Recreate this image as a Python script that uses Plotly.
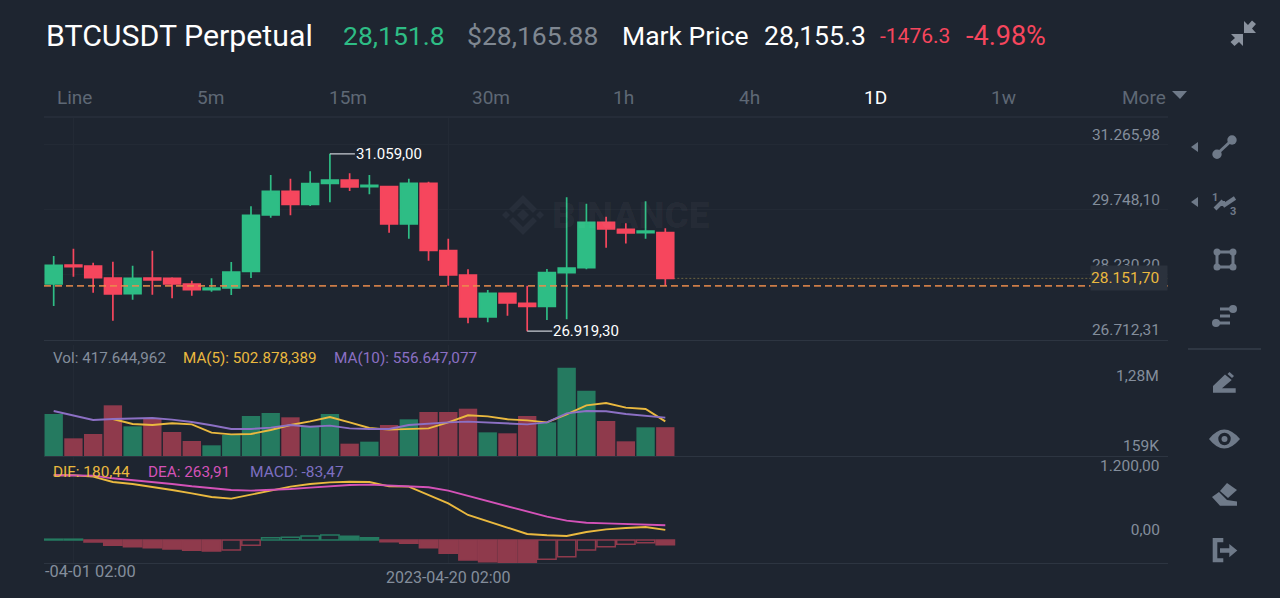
#!/usr/bin/env python3
# BTCUSDT daily candles with volume and MACD panes, phone app dark theme
import pandas as pd
import plotly.graph_objects as go
from plotly.subplots import make_subplots

dates = list(pd.date_range("2023-03-31 02:00", periods=32, freq="D"))

opens = [28020, 28464, 28440, 28160, 27794, 28160, 28152, 28020, 27888, 27926, 28316, 29631, 30184, 29880, 30370, 30448,
         30293, 30293, 29421, 30370, 28798, 28230, 27250, 27802, 27569, 27499, 28285, 28401, 29460, 29296, 29219, 29218]
highs = [28674, 28845, 28518, 28542, 28448, 28798, 28176, 28098, 28152, 28534, 29833, 30565, 30479, 30651, 31059, 30604,
         30565, 30308, 30479, 30409, 29079, 28362, 27880, 27802, 27981, 28370, 30044, 29896, 29592, 29437, 29950, 29320]
lows = [27506, 28191, 27818, 27164, 27654, 27771, 27685, 27748, 27841, 27763, 28160, 29569, 29623, 29841, 29927, 30191,
        30114, 29219, 29078, 28565, 27981, 27102, 27125, 27281, 26919.3, 27180, 27195, 28362, 28868, 28965, 29078, 27981]
closes = [28456, 28425, 28168, 27787, 28152, 28113, 28020, 27888, 27926, 28300, 29623, 30184, 29880, 30363, 30448, 30285,
          30324, 29421, 30370, 28806, 28230, 27250, 27802, 27576, 27499, 28285, 28394, 29460, 29304, 29211, 29257, 28151.7]

# volume in thousands
volumes = [609, 256, 319, 735, 430, 537, 348, 218, 155, 305, 580, 624, 561, 421, 609, 179,
           208, 450, 532, 638, 638, 686, 343, 329, 580, 488, 1281, 947, 508, 213, 416, 417.6]
ma5 = [None, None, None, 536, 464, 450, 474, 459, 338, 314, 319, 377, 450, 503, 566, 488,
       406, 382, 396, 401, 488, 590, 575, 532, 517, 488, 604, 735, 769, 701, 682, 502.9]
ma10 = [653, 585, 522, 536, 541, 551, 527, 493, 445, 392, 392, 411, 450, 425, 440, 401,
        392, 392, 450, 474, 488, 498, 483, 469, 459, 488, 619, 653, 648, 609, 585, 556.6]

dif = [1158, 1158, 1134, 1038, 1002, 955, 895, 835, 770, 740, 806, 883, 955, 1002, 1032, 1044,
       1038, 961, 955, 806, 656, 448, 334, 221, 107, 84, 72, 143, 191, 215, 233, 180.44]
dea = [1158, 1158, 1152, 1104, 1074, 1038, 1002, 961, 925, 895, 883, 895, 913, 937, 967, 985,
       991, 973, 967, 943, 883, 788, 692, 597, 507, 418, 346, 310, 298, 286, 275, 263.91]
macd = [15, 15, -36, -95, -119, -137, -161, -185, -197, -179, -95, 42, 48, 72, 90, 66,
        42, -30, -60, -137, -239, -358, -388, -406, -406, -346, -298, -179, -119, -78, -48, -83.47]

price_ticks = [31265.98, 29748.10, 28230.20, 26712.31]
price_labels = ["31.265,98", "29.748,10", "28.230,20", "26.712,31"]
macd_ticks = [0]
macd_labels = ["0,00"]
intervals = ["Line", "5m", "15m", "30m", "1h", "4h", "1D", "1w", "More"]
interval_pos = [55.5, 195.5, 327.5, 470.5, 611.5, 737.5, 863, 990, 1121]

W, H = 1280, 598
BG = "#1e2530"
GREEN = "#2ebd85"
RED = "#f6465d"
VOL_GREEN = "#257a60"
VOL_RED = "#8f3a4c"
YELLOW = "#eab93f"
PURPLE = "#8c70c4"
MAGENTA = "#d452b8"
GREY = "#848e9c"
ICON = "#6f7a89"
GRID = "#232a35"
LINE = "#2d3541"


def fx(x):
    return x / W


def fy(y):
    return 1 - y / H


def poly(points, color=ICON):
    path = "M " + " L ".join(f"{fx(x):.5f},{fy(y):.5f}" for x, y in points) + " Z"
    return dict(type="path", path=path, xref="paper", yref="paper", fillcolor=color, line_width=0, layer="above")


def seg(x0, y0, x1, y1, color=ICON, width=3):
    return dict(type="line", x0=fx(x0), y0=fy(y0), x1=fx(x1), y1=fy(y1), xref="paper", yref="paper",
                line=dict(color=color, width=width), layer="above")


def dot(cx, cy, r, color=ICON):
    return dict(type="circle", x0=fx(cx - r), x1=fx(cx + r), y0=fy(cy - r), y1=fy(cy + r), xref="paper", yref="paper",
                fillcolor=color, line_width=0, layer="above")


def label(text, x, y, size, color, anchor="left", family="Roboto"):
    return dict(text=text, x=fx(x), y=fy(y), xref="paper", yref="paper", xanchor=anchor, yanchor="middle",
                showarrow=False, borderpad=0, font=dict(size=size, color=color, family=family))


fig = make_subplots(rows=3, cols=1, shared_xaxes=True)

fig.add_trace(go.Candlestick(x=dates, open=opens, high=highs, low=lows, close=closes,
                             increasing=dict(line=dict(color=GREEN, width=1.7), fillcolor=GREEN),
                             decreasing=dict(line=dict(color=RED, width=1.7), fillcolor=RED),
                             whiskerwidth=0), row=1, col=1)

vol_colors = [VOL_GREEN if c >= o else VOL_RED for o, c in zip(opens, closes)]
fig.add_trace(go.Bar(x=dates, y=volumes, marker=dict(color=vol_colors, line_width=0)), row=2, col=1)
fig.add_trace(go.Scatter(x=dates, y=ma5, mode="lines", line=dict(color=YELLOW, width=1.9)), row=2, col=1)
fig.add_trace(go.Scatter(x=dates, y=ma10, mode="lines", line=dict(color=PURPLE, width=1.9)), row=2, col=1)

# hollow bars when the histogram is rising
edge, fill = [], []
for i, v in enumerate(macd):
    col = VOL_GREEN if v > 0 else VOL_RED
    edge.append(col)
    fill.append(BG if i > 0 and v > macd[i - 1] else col)
fig.add_trace(go.Bar(x=dates, y=macd, marker=dict(color=fill, line=dict(color=edge, width=1.5))), row=3, col=1)
fig.add_trace(go.Scatter(x=dates, y=dif, mode="lines", line=dict(color=YELLOW, width=1.9)), row=3, col=1)
fig.add_trace(go.Scatter(x=dates, y=dea, mode="lines", line=dict(color=MAGENTA, width=1.9)), row=3, col=1)

x_range = ["2023-03-30 14:12", "2023-05-26 13:31"]
for row in (1, 2, 3):
    fig.update_xaxes(row=row, col=1, range=x_range, domain=[fx(44), fx(1168)], showgrid=True, gridcolor=GRID,
                     gridwidth=1, zeroline=False, tickmode="array", tickvals=[dates[1], dates[20]],
                     showticklabels=False, ticks="", showline=True, linecolor=LINE, linewidth=1,
                     rangeslider_visible=False)
fig.update_xaxes(row=3, col=1, showticklabels=True, ticktext=["", "2023-04-20 02:00"],
                 tickfont=dict(size=16, color=GREY, family="Roboto"))

fig.update_yaxes(row=1, col=1, domain=[fy(340), fy(118)], range=[26712.31, 31896], side="right", tickmode="array",
                 tickvals=price_ticks, ticktext=price_labels, ticklabelposition="inside top", ticklabelstandoff=5,
                 tickfont=dict(size=15.5, color=GREY, family="Roboto"), showgrid=True, gridcolor=GRID, zeroline=False)
fig.update_yaxes(row=2, col=1, domain=[fy(456), fy(345)], range=[0, 1609.5], showgrid=False, zeroline=False,
                 showticklabels=False)
fig.update_yaxes(row=3, col=1, domain=[fy(563), fy(457)], range=[-411.7, 1485.7], side="right", tickmode="array",
                 tickvals=macd_ticks, ticktext=macd_labels, ticklabelposition="inside top", ticklabelstandoff=5,
                 tickfont=dict(size=15.5, color=GREY, family="Roboto"), showgrid=False, zeroline=False)

annotations = [
    label("BTCUSDT Perpetual", 44.5, 36, 30.3, "#ffffff"),
    label("28,151.8", 342, 36, 26.5, GREEN),
    label("$28,165.88", 466, 36, 26.5, "#7f8791"),
    label("Mark Price", 621, 36, 26.5, "#ffffff"),
    label("28,155.3", 763, 36, 26.6, "#ffffff"),
    label("-1476.3", 879, 36, 21, RED),
    label("-4.98%", 965, 36, 27, RED),
    label("Vol: 417.644,962", 52, 358, 15.2, GREY),
    label("MA(5): 502.878,389", 182, 358, 15.2, YELLOW),
    label("MA(10): 556.647,077", 333, 358, 15.3, PURPLE),
    label("DIF: 180,44", 52, 472, 15.4, YELLOW),
    label("DEA: 263,91", 147, 472, 15.3, MAGENTA),
    label("MACD: -83,47", 249, 472, 15.5, "#7d6fc0"),
    label("1,28M", 1160, 376, 15.5, GREY, "right"),
    label("159K", 1160, 446, 15.5, GREY, "right"),
    label("1.200,00", 1160, 466, 15.5, GREY, "right"),
    label("BINANCE", 551, 215, 37, "rgba(255,255,255,0.035)", family="Roboto Black, Roboto"),
]
for text, x in zip(intervals, interval_pos):
    annotations.append(label(text, x, 97, 19, "#ffffff" if text == "1D" else "#5e6875"))

# x label clipped at the pane edge in the app
annotations.append(dict(text="-04-01 02:00", x=dates[1], xref="x3", y=fy(571), yref="paper", xanchor="center",
                        yanchor="middle", xshift=17, showarrow=False, borderpad=0,
                        font=dict(size=16.4, color=GREY, family="Roboto")))
# high / low callouts
annotations.append(dict(text="31.059,00", x=dates[closes.index(30448)], y=max(highs), xref="x", yref="y", ax=25, ay=0,
                        xanchor="left", yanchor="middle", showarrow=True, arrowhead=0, arrowwidth=1.2,
                        arrowcolor="#c8ccd2", borderpad=0, standoff=0,
                        font=dict(size=15, color="#ffffff", family="Roboto")))
annotations.append(dict(text="26.919,30", x=dates[lows.index(min(lows))], y=min(lows), xref="x", yref="y", ax=25, ay=0,
                        xanchor="left", yanchor="middle", showarrow=True, arrowhead=0, arrowwidth=1.2,
                        arrowcolor="#c8ccd2", borderpad=0, standoff=0,
                        font=dict(size=15, color="#ffffff", family="Roboto")))
# last price box
annotations.append(dict(text="28.151,70", x=fx(1168), y=closes[-1], xref="paper", yref="y", xanchor="right",
                        yanchor="middle", showarrow=False, width=76, height=24, align="left", bgcolor="#2b323d",
                        borderpad=0, font=dict(size=15.5, color=YELLOW, family="Roboto")))

shapes = [
    # current price lines
    dict(type="line", x0=x_range[0], x1=x_range[1], y0=27975, y1=27975, xref="x", yref="y", layer="above",
         line=dict(color="rgba(235,140,75,0.85)", width=1.8, dash="7px 4px")),
    dict(type="line", x0=dates[-1], x1=x_range[1], y0=closes[-1], y1=closes[-1], xref="x", yref="y", layer="below",
         line=dict(color="#6d6440", width=1, dash="2px 2px")),
    seg(44, 117, 1168, 117, LINE, 1),
    seg(1188, 349, 1261, 349, "#2f3743", 2),
    # watermark logo
    poly([(523, 195), (537, 209), (533, 213), (523, 203), (513, 213), (509, 209)], "#272e3a"),
    poly([(523, 235), (537, 221), (533, 217), (523, 227), (513, 217), (509, 221)], "#272e3a"),
    poly([(523, 209), (529, 215), (523, 221), (517, 215)], "#272e3a"),
    poly([(506, 211), (510, 215), (506, 219), (502, 215)], "#272e3a"),
    poly([(540, 211), (544, 215), (540, 219), (536, 215)], "#272e3a"),
    # collapse icon
    poly([(1244, 21), (1244, 33), (1256, 33), (1252, 28.5), (1256, 24), (1252, 20.5), (1248, 25)], "#8a929e"),
    poly([(1231, 34), (1243, 34), (1243, 46), (1239, 42), (1234.5, 46), (1230.5, 42), (1235, 38)], "#8a929e"),
    # More arrow
    poly([(1172, 91), (1187, 91), (1180, 99)], "#6f7a89"),
    # trend line tool
    poly([(1191, 147), (1198, 142), (1198, 152)]),
    seg(1217, 154, 1232, 140), dot(1217, 154.3, 4.7), dot(1232, 140, 4.7),
    # fib waves tool
    poly([(1191, 202), (1198, 197), (1198, 207)]),
    seg(1215, 209, 1223, 201, width=4), seg(1223, 201, 1223, 206, width=4), seg(1223, 206, 1235, 198, width=4),
    # rectangle tool
    seg(1217, 252, 1233, 252), seg(1233, 252, 1233, 267), seg(1233, 267, 1217, 267), seg(1217, 267, 1217, 252),
    dot(1217, 252, 3.5), dot(1233, 252, 3.5), dot(1217, 267, 3.5), dot(1233, 267, 3.5),
    # parallel lines tool
    seg(1220, 309, 1233, 309), seg(1220, 316, 1230, 316), seg(1217, 323, 1230, 323),
    dot(1233, 309, 4), dot(1216, 323, 4),
    # pencil
    poly([(1213, 392.7), (1213, 386), (1225, 374.5), (1231.7, 380), (1222, 388.3), (1235.7, 388.3), (1235.7, 392.7)]),
    seg(1228.5, 373, 1233, 377),
    # eye
    dict(type="path", xref="paper", yref="paper", fillcolor=ICON, line_width=0, layer="above",
         path=f"M {fx(1209):.5f},{fy(439):.5f} Q {fx(1224):.5f},{fy(420):.5f} {fx(1240):.5f},{fy(439):.5f} "
              f"Q {fx(1224):.5f},{fy(458):.5f} {fx(1209):.5f},{fy(439):.5f} Z"),
    dot(1224.5, 439, 6.2, BG), dot(1224.5, 439, 3),
    # eraser
    poly([(1227, 483), (1237, 490), (1228, 498), (1220, 491)]),
    poly([(1212, 497), (1219, 492), (1227, 500), (1237, 501.5), (1237, 505.7), (1220, 505.7)]),
    # exit
    poly([(1212.7, 538), (1223.3, 538), (1223.3, 542.3), (1217.3, 542.3), (1217.3, 558.3), (1223.3, 558.3),
          (1223.3, 562.3), (1212.7, 562.3)]),
    poly([(1220, 548.3), (1229.3, 548.3), (1229.3, 544), (1237.3, 550.5), (1229.3, 557.3), (1229.3, 552.7),
          (1220, 552.7)]),
]
annotations.append(label("<b>1</b>", 1215, 197, 11, ICON, "center"))
annotations.append(label("<b>3</b>", 1233, 211, 11, ICON, "center"))

fig.update_layout(
    width=W, height=H, margin=dict(l=0, r=0, t=0, b=0), paper_bgcolor=BG, plot_bgcolor=BG, showlegend=False,
    bargap=0.07, boxgap=0.15, boxgroupgap=0, hovermode=False, annotations=annotations, shapes=shapes,
)

fig.write_html("out.html", post_script="document.body.style.margin='0';", config={"displayModeBar": False})
